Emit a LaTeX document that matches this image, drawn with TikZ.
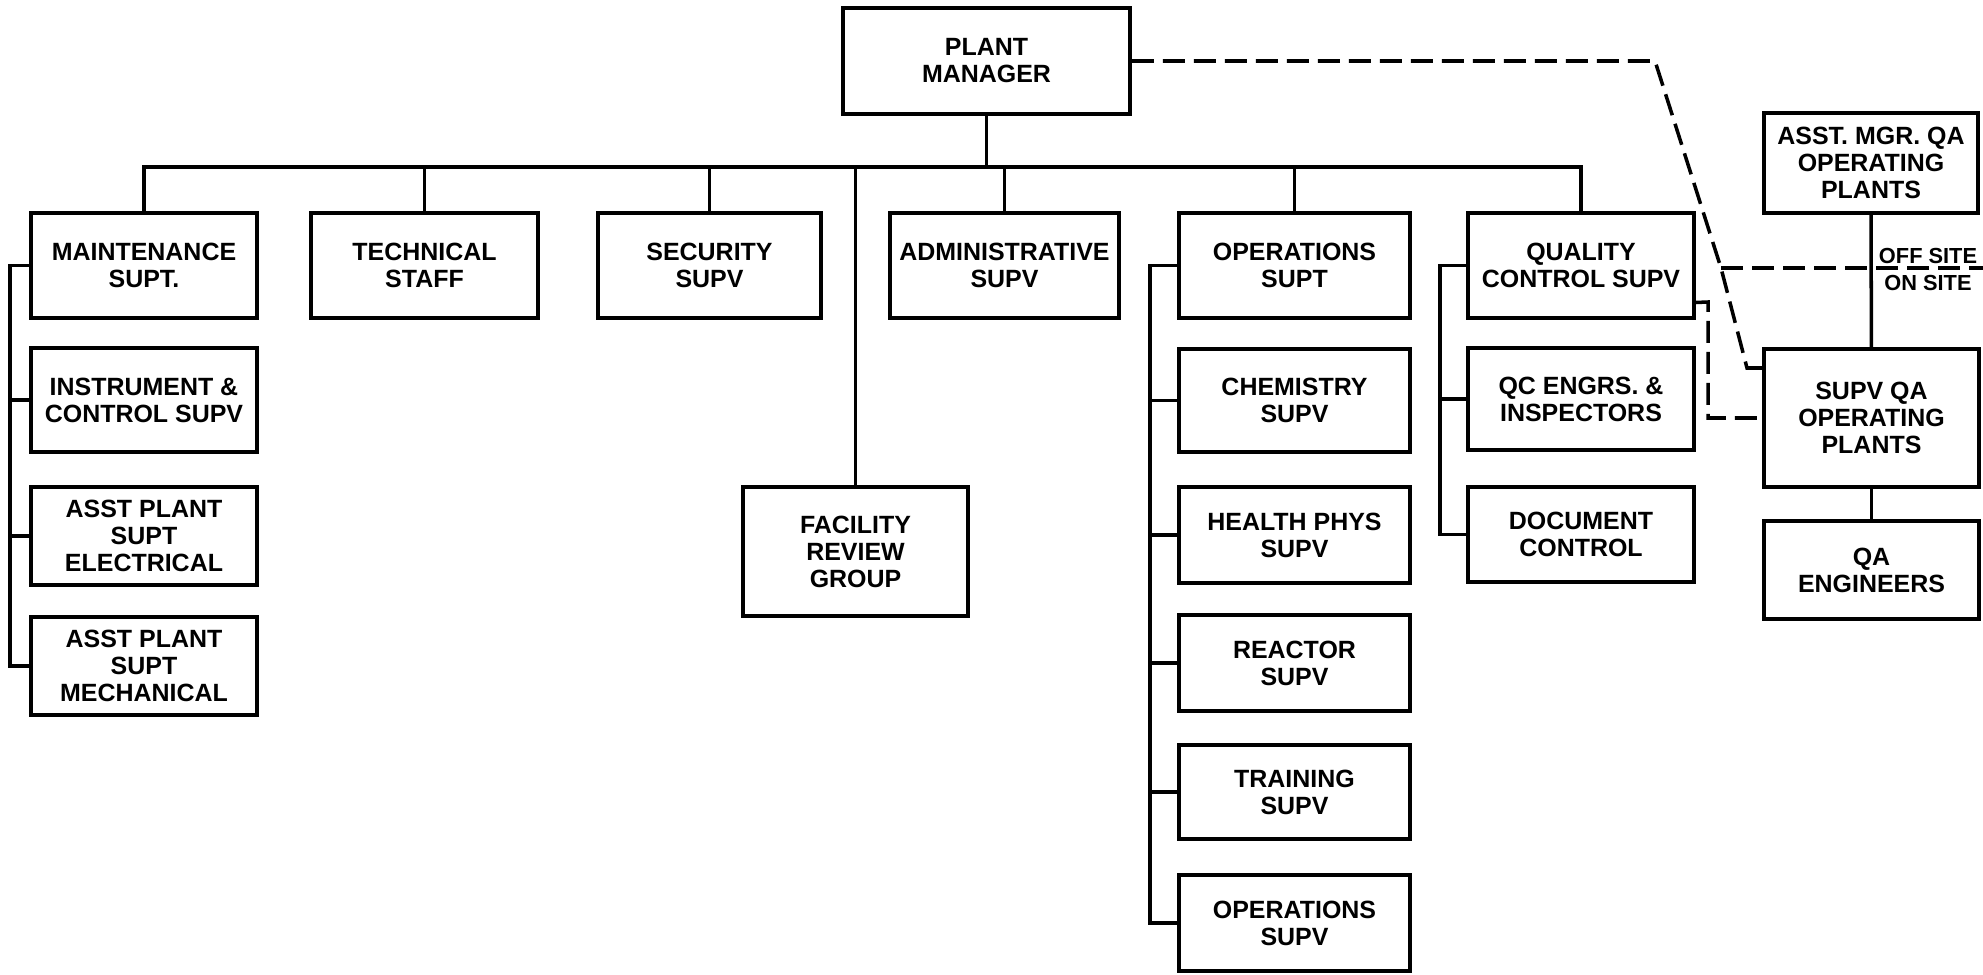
\documentclass[tikz,border=0pt]{standalone}
\usepackage{fontspec}
\setmainfont{Liberation Sans}
\usetikzlibrary{positioning, calc}

\begin{document}
\begin{tikzpicture}[x=0.1mm, y=-0.1mm,
  orgbox/.style={draw, line width=1.1pt, font=\bfseries\fontsize{7.1}{7.7}\selectfont, align=center, inner sep=1pt},
  link/.style={line width=1pt},
  dashlink/.style={line width=1pt, dash pattern=on 2.2mm off 0.9mm},
  sitelabel/.style={font=\bfseries\fontsize{6.2}{6.2}\selectfont, inner sep=0pt},
]
\useasboundingbox (0,0) rectangle (1983,975);
\def\rowA{265.5}
\def\colw{22.6mm}

% Top
\node[orgbox, minimum width=28.7mm, minimum height=10.6mm] (pm) at (986.5,61) {PLANT\\MANAGER};

% === First row ===
\node[orgbox, minimum width=\colw, minimum height=10.5mm] (maint) at (144,\rowA) {MAINTENANCE\\SUPT.};
\node[orgbox, minimum width=22.7mm, minimum height=10.5mm] (tech) at (424.5,\rowA) {TECHNICAL\\STAFF};
\node[orgbox, minimum width=22.3mm, minimum height=10.5mm] (sec) at (709.5,\rowA) {SECURITY\\SUPV};
\node[orgbox, minimum width=22.9mm, minimum height=10.5mm] (admin) at (1004.5,\rowA) {ADMINISTRATIVE\\SUPV};
\node[orgbox, minimum width=23.1mm, minimum height=10.5mm] (ops) at (1294.5,\rowA) {OPERATIONS\\SUPT};
\node[orgbox, minimum width=\colw, minimum height=10.5mm] (qc) at (1581,\rowA) {QUALITY\\CONTROL SUPV};

% === Maintenance column ===
\node[orgbox, minimum width=\colw, minimum height=10.4mm] (instr) at (144,400) {INSTRUMENT \&\\CONTROL SUPV};
\node[orgbox, minimum width=\colw, minimum height=9.8mm] (elec) at (144,536) {ASST PLANT\\SUPT\\ELECTRICAL};
\node[orgbox, minimum width=\colw, minimum height=9.8mm] (mech) at (144,666) {ASST PLANT\\SUPT\\MECHANICAL};

\node[orgbox, minimum width=22.5mm, minimum height=12.9mm] (frg) at (855.5,551.5) {FACILITY\\REVIEW\\GROUP};

% === Operations column ===
\node[orgbox, minimum width=23.1mm, minimum height=10.3mm] (chem) at (1294.5,400.5) {CHEMISTRY\\SUPV};
\node[orgbox, minimum width=23.1mm, minimum height=9.6mm] (hp) at (1294.5,535) {HEALTH PHYS\\SUPV};
\node[orgbox, minimum width=23.1mm, minimum height=9.6mm] (reac) at (1294.5,663) {REACTOR\\SUPV};
\node[orgbox, minimum width=23.1mm, minimum height=9.4mm] (train) at (1294.5,792) {TRAINING\\SUPV};
\node[orgbox, minimum width=23.1mm, minimum height=9.6mm] (opsupv) at (1294.5,923) {OPERATIONS\\SUPV};

% === QC column ===
\node[orgbox, minimum width=\colw, minimum height=10.2mm] (qce) at (1581,399) {QC ENGRS. \&\\INSPECTORS};
\node[orgbox, minimum width=\colw, minimum height=9.5mm] (doc) at (1581,534.5) {DOCUMENT\\CONTROL};

% === QA (off site) ===
\node[orgbox, minimum width=21.4mm, minimum height=10mm] (amqa) at (1871,163) {ASST. MGR. QA\\OPERATING\\PLANTS};
\node[orgbox, minimum width=21.5mm, minimum height=13.8mm] (supvqa) at (1871.5,418) {SUPV QA\\OPERATING\\PLANTS};
\node[orgbox, minimum width=21.5mm, minimum height=9.8mm] (qae) at (1871.5,570) {QA\\ENGINEERS};

\node[sitelabel] (offsite) at (1928,256) {OFF SITE};
\node[sitelabel] (onsite) at (1928,283) {ON SITE};

% Helper points
\coordinate (bus) at (0,167);
\coordinate (mspine) at (10,0);
\coordinate (ospine) at (1150,0);
\coordinate (qspine) at (1440,0);
\coordinate (bend) at (1655,61);
\coordinate (site) at (1721,268);
\coordinate (drop) at (1747,368);
\coordinate (edge) at (1983,268);
\coordinate (qcbend) at (1708,302);

% Main bus
\draw[link] (pm.south) -- (pm.south |- bus);
\draw[link] (maint.north) -- (maint.north |- bus) -- (qc.north |- bus) -- (qc.north);
\foreach \n in {tech, sec, admin, ops, frg}
  \draw[link] (\n.north) -- (\n.north |- bus);

% Side spines
\draw[link] (maint.west) -- (maint.west -| mspine) -- (mech.west -| mspine) -- (mech.west);
\foreach \n in {instr, elec}
  \draw[link] (\n.west) -- (\n.west -| mspine);

\draw[link] (ops.west) -- (ops.west -| ospine) -- (opsupv.west -| ospine) -- (opsupv.west);
\foreach \n in {chem, hp, reac, train}
  \draw[link] (\n.west) -- (\n.west -| ospine);

\draw[link] (qc.west) -- (qc.west -| qspine) -- (doc.west -| qspine) -- (doc.west);
\draw[link] (qce.west) -- (qce.west -| qspine);

\draw[link] (amqa) -- (supvqa);
\draw[link] (supvqa) -- (qae);

% Dashed lines
\draw[dashlink] (pm.east) -- (bend) -- (site) -- (drop) -- (supvqa.west |- drop);
\draw[dashlink] (site) -- (edge);
\draw[dashlink] ([yshift=-3.7mm]qc.east) -- (qcbend) |- (supvqa.west);
\end{tikzpicture}
\end{document}
